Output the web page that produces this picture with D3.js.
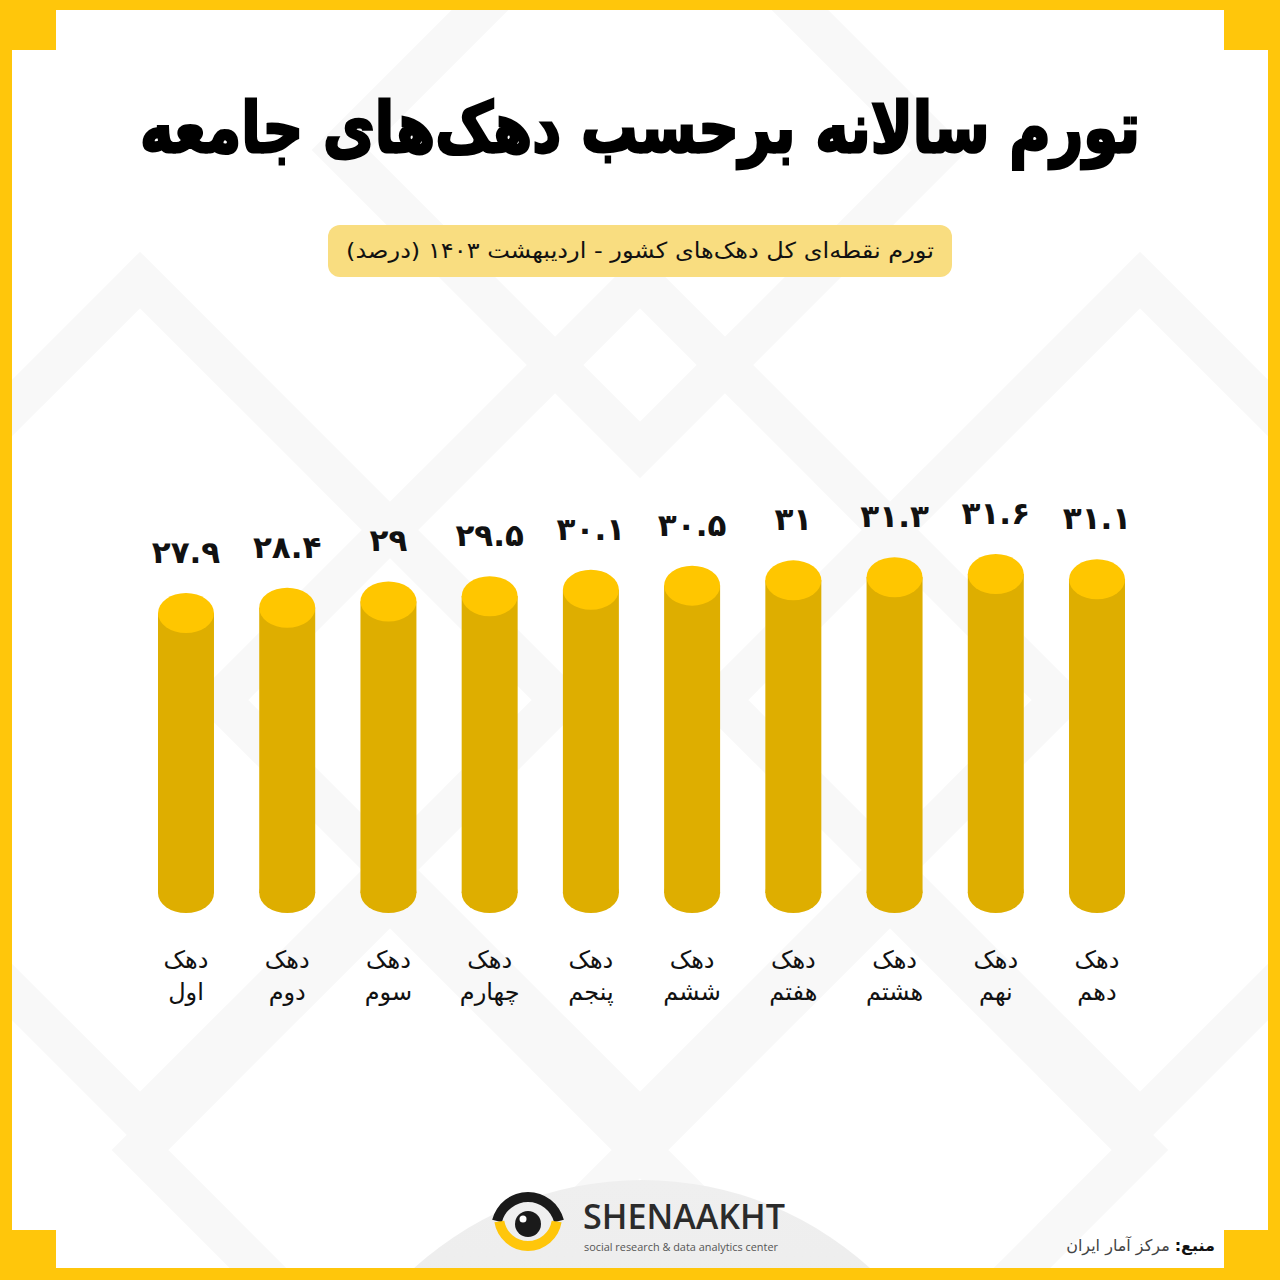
<!DOCTYPE html>
<html><head><meta charset="utf-8">
<script src="https://cdn.jsdelivr.net/npm/d3@7/dist/d3.min.js"></script>
<style>html,body{margin:0;padding:0;background:#fff;}svg{display:block;}</style>
</head><body>
<script>
// ---- data ----
const titleText = "تورم سالانه برحسب دهک‌های جامعه";
const subtitleText = "تورم نقطه‌ای کل دهک‌های کشور - اردیبهشت ۱۴۰۳ (درصد)";
const catPrefix = "دهک";
const ordinals = ["اول","دوم","سوم","چهارم","پنجم","ششم","هفتم","هشتم","نهم","دهم"];
const values = [27.9, 28.4, 29, 29.5, 30.1, 30.5, 31, 31.3, 31.6, 31.1];
const sourceLabel = "منبع:";
const sourceText = "مرکز آمار ایران";
const brandName = "SHENAAKHT";
const brandTag = "social research & data analytics center";

const W = 1280, H = 1280;
const faDigits = s => String(s).replace(/[0-9]/g, d => "۰۱۲۳۴۵۶۷۸۹"[d]);
const FA = "'DejaVu Sans', 'Noto Sans', sans-serif";
const YEL = "#FFC60B";

const svg = d3.select("body").append("svg").attr("width", W).attr("height", H);
const defs = svg.append("defs");
const cp = defs.append("clipPath").attr("id", "inner");
cp.append("rect").attr("x", 12).attr("y", 10).attr("width", 1256).attr("height", 1258);

// frame
svg.append("rect").attr("width", W).attr("height", H).attr("fill", YEL);
svg.append("rect").attr("x", 12).attr("y", 10).attr("width", 1256).attr("height", 1258).attr("fill", "#ffffff");

// faint background pattern
const bg = svg.append("g").attr("clip-path", "url(#inner)").attr("fill", "none")
  .attr("stroke", "#f8f8f8").attr("stroke-width", 40);
const diamonds = [[640,700,420],[140,700,420],[1140,700,420],[640,150,300],[390,1150,250],[890,1150,250]];
diamonds.forEach(([cx,cy,r]) => bg.append("path").attr("d", `M${cx},${cy-r}L${cx+r},${cy}L${cx},${cy+r}L${cx-r},${cy}Z`));

// bottom semicircle behind logo
const grad = defs.append("linearGradient").attr("id", "semi").attr("x1", 0).attr("y1", 0).attr("x2", 0).attr("y2", 1);
grad.append("stop").attr("offset", "0%").attr("stop-color", "#efefef");
grad.append("stop").attr("offset", "100%").attr("stop-color", "#e6e6e6");
svg.append("circle").attr("clip-path", "url(#inner)").attr("cx", 642).attr("cy", 1519).attr("r", 339).attr("fill", "url(#semi)");

// corner notches
[[0,0],[1224,0],[0,1230],[1224,1230]].forEach(([x,y]) =>
  svg.append("rect").attr("x", x).attr("y", y).attr("width", 56).attr("height", 50).attr("fill", YEL));

// title
const title = svg.append("text").attr("x", 640).attr("y", 152)
  .attr("text-anchor", "middle").attr("direction", "rtl")
  .attr("font-family", FA).attr("font-weight", "bold").attr("font-size", 62)
  .attr("fill", "#000").attr("stroke", "#000").attr("stroke-width", 2.5)
  .text(titleText);
(function fit(){ const w = title.node().getComputedTextLength(); const s = 1000 / w;
  title.attr("transform", `translate(640,0) scale(${s},1.12) translate(-640,0)`).attr("y", 152/1.12); })();

// subtitle box
svg.append("rect").attr("x", 328).attr("y", 225).attr("width", 624).attr("height", 52).attr("rx", 12)
  .attr("fill", "#F9DD80");
const sub = svg.append("text").attr("x", 640).attr("y", 258)
  .attr("text-anchor", "middle").attr("direction", "rtl")
  .attr("font-family", FA).attr("font-size", 22).attr("fill", "#111")
  .text(subtitleText);
(function fit(){ const w = sub.node().getComputedTextLength(); const s = 588 / w;
  sub.attr("transform", `translate(640,0) scale(${s},1) translate(-640,0)`); })();

// scales
const x = d3.scaleBand().domain(d3.range(values.length)).range([158, 1125]).paddingInner(0.447).paddingOuter(0);
const y = d3.scaleLinear().domain([25, 35]).range([643.6, 538.2]);
const baseY = 893;
const rx = x.bandwidth() / 2, ry = 20;

const bars = svg.append("g").selectAll("g").data(values).join("g")
  .attr("transform", (d, i) => `translate(${x(i) + rx},0)`);
bars.append("ellipse").attr("cx", 0).attr("cy", baseY).attr("rx", rx).attr("ry", ry).attr("fill", "#DEAE00");
bars.append("rect").attr("x", -rx).attr("y", d => y(d)).attr("width", 2 * rx).attr("height", d => baseY - y(d)).attr("fill", "#DEAE00");
bars.append("ellipse").attr("cx", 0).attr("cy", d => y(d)).attr("rx", rx).attr("ry", ry).attr("fill", "#FFC600");

// value labels
bars.append("text").attr("x", 0).attr("y", d => y(d) - ry - 30)
  .attr("text-anchor", "middle").attr("font-family", FA).attr("font-weight", "bold")
  .attr("font-size", 31).attr("fill", "#111")
  .text(d => faDigits(d));

// category labels
bars.append("text").attr("x", 0).attr("y", 968).attr("text-anchor", "middle").attr("direction", "rtl")
  .attr("font-family", FA).attr("font-size", 24).attr("fill", "#111").text(catPrefix);
bars.append("text").attr("x", 0).attr("y", 1000).attr("text-anchor", "middle").attr("direction", "rtl")
  .attr("font-family", FA).attr("font-size", 24).attr("fill", "#111").text((d, i) => ordinals[i]);

// logo
const logo = svg.append("g").attr("transform", "translate(528,1223)");
const arc = d3.arc();
logo.append("path").attr("d", arc({innerRadius: 27, outerRadius: 37, startAngle: -Math.PI * 0.42, endAngle: Math.PI * 0.42}))
  .attr("fill", "#1a1a1a").attr("transform", "translate(0,6)");
logo.append("path").attr("d", arc({innerRadius: 24, outerRadius: 34, startAngle: Math.PI * 0.55, endAngle: Math.PI * 1.45}))
  .attr("fill", YEL).attr("transform", "translate(0,-6)");
logo.append("circle").attr("cx", 0).attr("cy", 1).attr("r", 13).attr("fill", "#1a1a1a");
logo.append("circle").attr("cx", -5).attr("cy", -4).attr("r", 3.5).attr("fill", "#fff");
svg.append("text").attr("x", 583).attr("y", 1229).attr("font-family", "'Open Sans', sans-serif")
  .attr("font-weight", 600).attr("font-size", 34).attr("fill", "#2b2b2b")
  .attr("textLength", 202).attr("lengthAdjust", "spacingAndGlyphs").text(brandName);
svg.append("text").attr("x", 584).attr("y", 1251).attr("font-family", "'Open Sans', sans-serif")
  .attr("font-size", 10.5).attr("fill", "#555")
  .attr("textLength", 194).attr("lengthAdjust", "spacingAndGlyphs").text(brandTag);

// source (right-aligned at x=1215)
const srcG = svg.append("g");
const srcLab = srcG.append("text").attr("x", 1215).attr("y", 1251).attr("text-anchor", "start").attr("direction", "rtl")
  .attr("font-family", FA).attr("font-size", 16).attr("font-weight", "bold").attr("fill", "#111").text(sourceLabel);
const labW = srcLab.node().getComputedTextLength();
srcG.append("text").attr("x", 1215 - labW - 5).attr("y", 1251).attr("text-anchor", "start").attr("direction", "rtl")
  .attr("font-family", FA).attr("font-size", 16).attr("fill", "#444").text(sourceText);
</script>
</body></html>
